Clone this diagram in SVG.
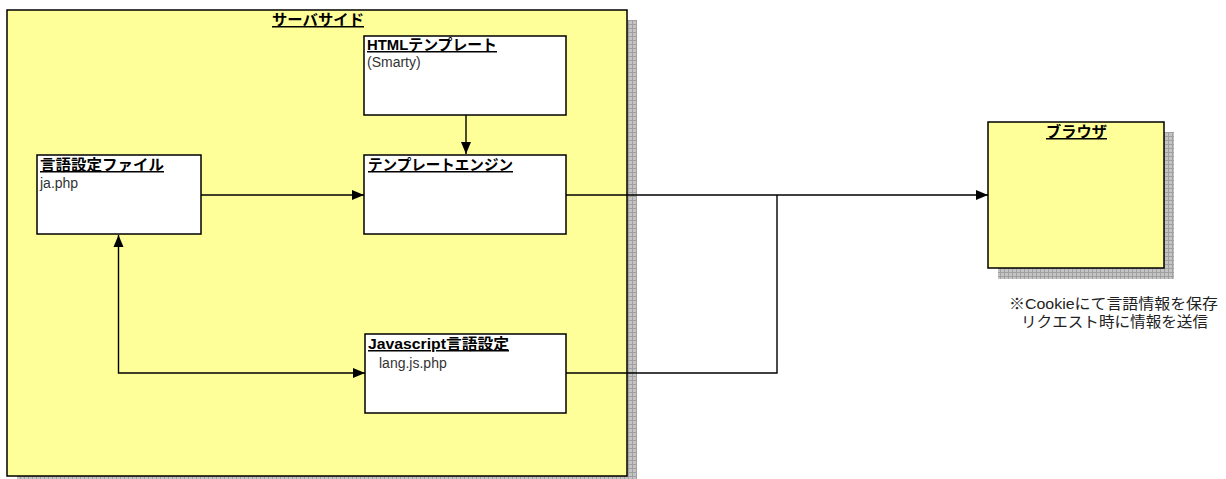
<svg xmlns="http://www.w3.org/2000/svg" width="1226" height="479" viewBox="0 0 1226 479">
<style>
.box{fill:#ffffff;stroke:#000;stroke-width:1.5}
.area{fill:#ffff99;stroke:#000;stroke-width:1.5}
.shadow{fill:url(#grid)}
.title{font-family:"Liberation Sans","Noto Sans CJK JP",sans-serif;font-weight:bold;font-size:15px;fill:#000;text-decoration:underline}
.sub{font-family:"Liberation Sans","Noto Sans CJK JP",sans-serif;font-size:14px;fill:#333}
.note{font-family:"Liberation Sans","Noto Sans CJK JP",sans-serif;font-size:15px;fill:#222}
.conn{fill:none;stroke:#000;stroke-width:1.4}
</style>
<defs>
<pattern id="grid" width="4" height="4" patternUnits="userSpaceOnUse">
<rect width="4" height="4" fill="#c4c4c4"/>
<path d="M0 0.5H4M0.5 0V4" stroke="#a0a0a0" stroke-width="1"/>
</pattern>
<marker id="arr" viewBox="0 0 12 12" refX="12" refY="6" markerWidth="12" markerHeight="12" markerUnits="userSpaceOnUse" orient="auto-start-reverse">
<path d="M0 1L12 6L0 11z" fill="#000"/>
</marker>
</defs>
<g id="server">
<rect class="shadow" x="17" y="20" width="620" height="466"/>
<rect class="area" x="7" y="10" width="620" height="466"/>
<text class="title" x="272" y="25" textLength="92" lengthAdjust="spacingAndGlyphs">サーバサイド</text>
</g>
<g id="html-template">
<rect class="box" x="364" y="36" width="202" height="79"/>
<text class="title" x="367" y="50" textLength="130" lengthAdjust="spacingAndGlyphs">HTMLテンプレート</text>
<text class="sub" x="367" y="67">(Smarty)</text>
</g>
<g id="lang-file">
<rect class="box" x="37" y="155" width="164" height="79"/>
<text class="title" x="40" y="170" textLength="124" lengthAdjust="spacingAndGlyphs">言語設定ファイル</text>
<text class="sub" x="40" y="188">ja.php</text>
</g>
<g id="template-engine">
<rect class="box" x="364" y="155" width="202" height="79"/>
<text class="title" x="368" y="170" textLength="145" lengthAdjust="spacingAndGlyphs">テンプレートエンジン</text>
</g>
<g id="js-lang">
<rect class="box" x="365" y="334" width="201" height="79"/>
<text class="title" x="368" y="349" textLength="141" lengthAdjust="spacingAndGlyphs">Javascript言語設定</text>
<text class="sub" x="379" y="368">lang.js.php</text>
</g>
<g id="browser">
<rect class="shadow" x="998" y="132" width="176" height="147"/>
<rect class="area" x="988" y="122" width="176" height="146"/>
<text class="title" x="1046" y="137" textLength="61" lengthAdjust="spacingAndGlyphs">ブラウザ</text>
</g>
<g id="note">
<text class="note" x="1009" y="309" textLength="209" lengthAdjust="spacingAndGlyphs">※Cookieにて言語情報を保存</text>
<text class="note" x="1021" y="327" textLength="187" lengthAdjust="spacingAndGlyphs">リクエスト時に情報を送信</text>
</g>
<g id="connectors">
<path class="conn" d="M466 115V154" marker-end="url(#arr)"/>
<path class="conn" d="M201 195H364" marker-end="url(#arr)"/>
<path class="conn" d="M566 195H988" marker-end="url(#arr)"/>
<path class="conn" d="M566 373H777V195"/>
<path class="conn" d="M118.5 235V373H365" marker-start="url(#arr)" marker-end="url(#arr)"/>
</g>
</svg>
